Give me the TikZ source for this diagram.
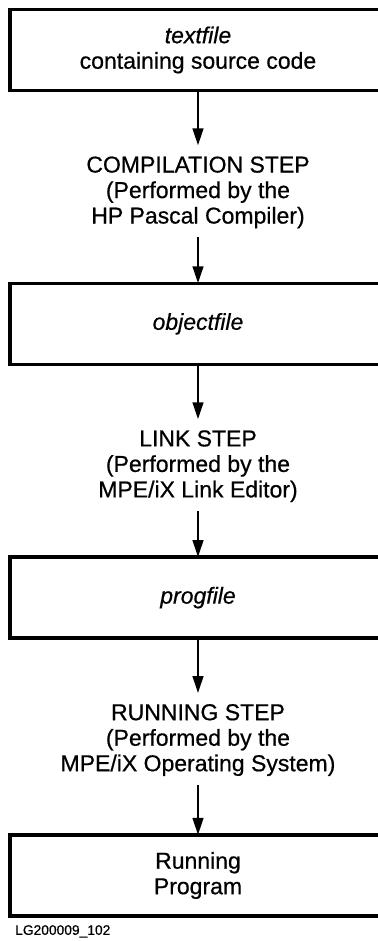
\documentclass[tikz,border=0pt]{standalone}
\usepackage{fontspec}
\setmainfont[FakeBold=0.6,AutoFakeBold=0.6]{Liberation Sans}
\usetikzlibrary{arrows.meta,positioning}

\begin{document}
\begin{tikzpicture}[
  x=1pt,y=1pt,
  filebox/.style={rectangle,draw=black,line width=3.5pt,outer sep=0pt,minimum width=376pt,minimum height=81pt,font=\fontsize{23}{25.5}\selectfont\bfseries,align=center,inner sep=0pt},
  stage/.style={rectangle,outer sep=0pt,inner sep=0pt,font=\fontsize{23}{25.5}\selectfont\bfseries,align=center},
  flow/.style={-{Triangle[length=17pt,width=10.5pt]},line width=2.7pt}
]
  \useasboundingbox (0,0) rectangle (377,-941);
  \node[filebox] (src) at (198,-50) {\textit{textfile}\\containing source code};
  \node[stage,below=66pt of src] (comp) {COMPILATION STEP\\(Performed by the\\HP Pascal Compiler)};
  \node[filebox,below=55pt of comp] (obj) {\textit{objectfile}};
  \node[stage,below=66pt of obj] (link) {LINK STEP\\(Performed by the\\MPE/iX Link Editor)};
  \node[filebox,below=55pt of link] (prog) {\textit{progfile}};
  \node[stage,below=66pt of prog] (runstep) {RUNNING STEP\\(Performed by the\\MPE/iX Operating System)};
  \node[filebox,below=59pt of runstep] (run) {Running\\Program};
  \draw[flow,shorten >=11pt] (src)--(comp);
  \draw[flow,shorten <=9pt] (comp)--(obj);
  \draw[flow,shorten >=11pt] (obj)--(link);
  \draw[flow,shorten <=9pt] (link)--(prog);
  \draw[flow,shorten >=11pt] (prog)--(runstep);
  \draw[flow,shorten <=9pt] (runstep)--(run);
  \node[below right=9pt and 5pt of run.south west,inner sep=0pt,font=\fontsize{13.8}{16}\selectfont\bfseries] (figid) {LG200009\_102};
\end{tikzpicture}
\end{document}
